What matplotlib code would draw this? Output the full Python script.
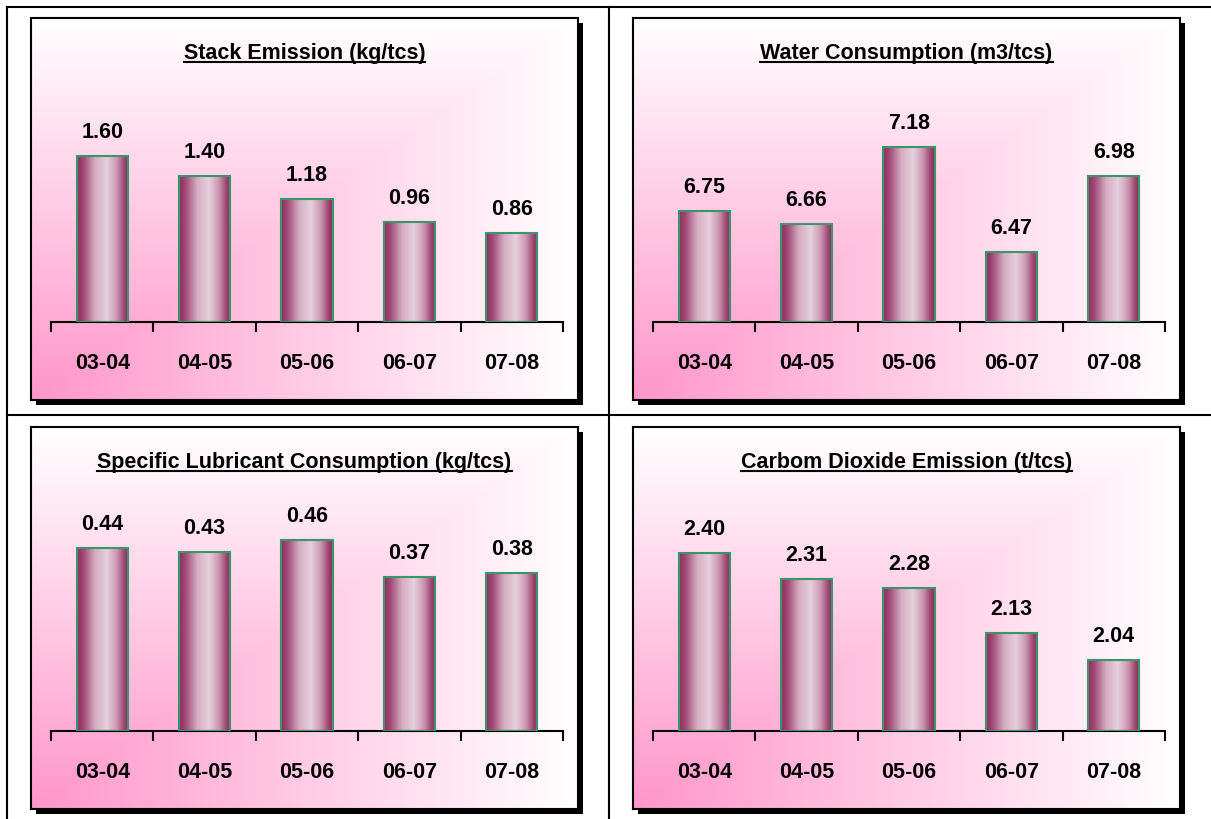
import numpy as np
import matplotlib
matplotlib.use("Agg")
import matplotlib.pyplot as plt
from matplotlib import font_manager as fm
from matplotlib.patches import Rectangle
from matplotlib.lines import Line2D
from matplotlib.colors import LinearSegmentedColormap

# data
years = ["03-04", "04-05", "05-06", "06-07", "07-08"]
stack_emission = [1.60, 1.40, 1.18, 0.96, 0.86]
water_consumption = [6.75, 6.66, 7.18, 6.47, 6.98]
lubricant_consumption = [0.44, 0.43, 0.46, 0.37, 0.38]
co2_emission = [2.40, 2.31, 2.28, 2.13, 2.04]
titles = ["Stack Emission (kg/tcs)", "Water Consumption (m3/tcs)",
          "Specific Lubricant Consumption (kg/tcs)", "Carbom Dioxide Emission (t/tcs)"]
y_ranges = [(0, 2.0), (6.0, 7.4), (0, 0.5), (1.8, 2.5)]

# narrow font if there is one, else plain Liberation Sans a bit smaller
installed = {f.name for f in fm.fontManager.ttflist}
if 'Liberation Sans Narrow' in installed:
    plt.rcParams['font.family'] = ['Liberation Sans Narrow', 'DejaVu Sans']
    fs = 17
else:
    plt.rcParams['font.family'] = ['Liberation Sans', 'DejaVu Sans']
    fs = 15.5
plt.rcParams['font.weight'] = 'bold'

W, H = 1211, 819
fig = plt.figure(figsize=(W / 100, H / 100), dpi=100)
fig.patch.set_facecolor('white')


def fx(px):
    return px / W


def fy(py):
    return 1 - py / H


# table grid lines
for xs, ys in [([7, W], [7, 7]), ([7, W], [415, 415]), ([7, 7], [7, H]), ([609, 609], [7, H])]:
    fig.add_artist(Line2D([fx(v) for v in xs], [fy(v) for v in ys], transform=fig.transFigure,
                          color='black', lw=1.5))

# gradients
bar_cmap = LinearSegmentedColormap.from_list('cyl', [
    (0.0, '#8e2f5c'), (0.12, '#a24a78'), (0.35, '#d5aec2'), (0.58, '#e6cfdc'),
    (0.78, '#c894ae'), (0.92, '#9e4572'), (1.0, '#8c2c5a')])
bar_grad = np.linspace(0, 1, 64).reshape(1, -1)

gy, gx = np.mgrid[0:1:200j, 0:1:300j]
t = np.maximum(gx, gy)  # gy = 0 at bottom (origin='lower')
pink = np.array([255, 150, 202]) / 255
white = np.array([255, 255, 255]) / 255
bg_img = pink[None, None, :] * (1 - t[..., None]) + white[None, None, :] * t[..., None]

frames = [(31, 18), (633, 18), (31, 427), (633, 427)]
fw, fh = 547, 382
series = [stack_emission, water_consumption, lubricant_consumption, co2_emission]

title_texts = []
for (L, T), vals, title, (y0, y1) in zip(frames, series, titles, y_ranges):
    # shadow
    fig.add_artist(Rectangle((fx(L + 5), fy(T + fh + 5)), fw / W, fh / H, transform=fig.transFigure,
                             facecolor='black', edgecolor='none', zorder=-1))
    bg = fig.add_axes([fx(L), fy(T + fh), fw / W, fh / H], zorder=0)
    bg.imshow(bg_img, extent=[0, 1, 0, 1], origin='lower', aspect='auto', interpolation='bilinear')
    bg.set_xticks([])
    bg.set_yticks([])
    for s in bg.spines.values():
        s.set_color('black')
        s.set_linewidth(1.5)

    ax = fig.add_axes([fx(L + 20), fy(T + 304), 512 / W, 208 / H], zorder=1)
    ax.patch.set_alpha(0)
    x = np.arange(len(years))
    heights = [v - y0 for v in vals]
    bars = ax.bar(x, heights, width=0.5, bottom=y0, facecolor='none',
                  edgecolor='#3b956a', linewidth=1.5, zorder=3)
    for b in bars:
        ax.imshow(bar_grad, cmap=bar_cmap, extent=[b.get_x(), b.get_x() + b.get_width(),
                                                   b.get_y(), b.get_y() + b.get_height()],
                  aspect='auto', interpolation='bilinear', zorder=2)
    for xi, v in zip(x, vals):
        ax.annotate(f"{v:.2f}", xy=(xi, v), xytext=(0, 13), textcoords='offset points',
                    ha='center', va='baseline', fontsize=fs, fontweight='bold')
    ax.set_xlim(-0.5, len(years) - 0.5)
    ax.set_ylim(y0, y1)
    ax.set_yticks([])
    for side in ['left', 'right', 'top']:
        ax.spines[side].set_visible(False)
    ax.spines['bottom'].set_linewidth(1.5)
    ax.set_xticks(x)
    ax.set_xticklabels(years, fontsize=fs, fontweight='bold')
    ax.tick_params(axis='x', which='major', length=0, pad=22)
    ax.set_xticks(np.arange(-0.5, len(years)), minor=True)
    ax.tick_params(axis='x', which='minor', length=7, width=1.5, direction='out')

    tt = fig.text(fx(L + fw / 2), fy(T + 41), title, ha='center', va='baseline',
                  fontsize=fs, fontweight='bold')
    title_texts.append((tt, T))

# underline titles
fig.canvas.draw()
for tt, T in title_texts:
    bb = tt.get_window_extent()
    fig.add_artist(Line2D([bb.x0 / W, bb.x1 / W], [fy(T + 44), fy(T + 44)], transform=fig.transFigure,
                          color='black', lw=1.5))

fig.savefig("out.png", dpi=100)
